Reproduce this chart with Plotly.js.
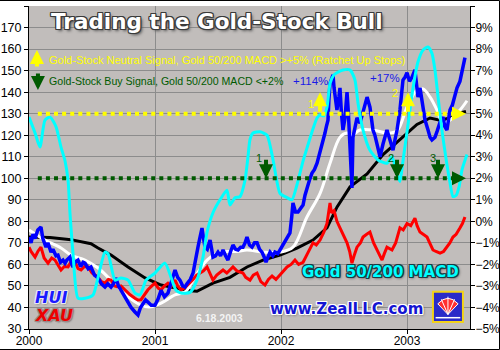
<!DOCTYPE html>
<html><head><meta charset="utf-8">
<script src="https://cdn.plot.ly/plotly-3.0.1.min.js"></script>
<style>html,body{margin:0;padding:0;background:#fff}#chart{width:500px;height:350px}</style>
</head><body><div id="chart"></div>
<script>
// x values are decimal years
const huiX = [0,.016,.032,.048,.07,.095,.11,.135,.15,.175,.19,.214,.23,.25,.27,.286,.30,.325,.34,.349,.365,.389,.41,.43,.444,.47,.492,.52,.548,.575,.603,.625,.651,.67,.69,.71,.73,.76,.786,.81,.841,.865,.885,.905,.925,.944,.97,1.0,1.025,1.048,1.075,1.103,1.13,1.159,1.18,1.198,1.22,1.238,1.254,1.28,1.302,1.325,1.341,1.355,1.373,1.385,1.397,1.415,1.437,1.45,1.46,1.48,1.5,1.52,1.54,1.56,1.579,1.60,1.619,1.64,1.659,1.68,1.698,1.715,1.73,1.75,1.77,1.79,1.81,1.83,1.849,1.87,1.881,1.90,1.913,1.935,1.952,1.975,1.992,2.01,2.032,2.05,2.071,2.085,2.095,2.115,2.135,2.155,2.175,2.19,2.206,2.225,2.246,2.265,2.286,2.30,2.325,2.34,2.349,2.36,2.373,2.38,2.389,2.40,2.413,2.421,2.429,2.444,2.46,2.468,2.48,2.492,2.508,2.524,2.535,2.548,2.556,2.563,2.571,2.587,2.603,2.627,2.645,2.659,2.683,2.706,2.73,2.745,2.762,2.786,2.81,2.841,2.865,2.889,2.905,2.921,2.944,2.955,2.968,2.985,3.0,3.02,3.04,3.063,3.075,3.087,3.103,3.12,3.143,3.167,3.183,3.198,3.222,3.24,3.262,3.286,3.30,3.317,3.341,3.36,3.38,3.397,3.42,3.437,3.45,3.46];
const huiY = [72.7,70,74,72,76,77.4,72,68,70,65.7,67,64,64.3,61,62,60.6,62,63.4,60,58.8,61,62,59,61,60.6,58,58.8,55,53.7,51,49.5,51,49.5,51,53.7,50,48,45,42,40,37.9,36.5,40,42,43.5,42.5,41,41,44,48,45,46.7,52,57.4,54,52.7,50,49.5,51,53,56,62,68,72,76.9,72,68,67,71.3,67,63.4,64,65.7,64,66.7,64,62,66,69,67,66.7,68,68,70,72.7,69,68,70,70,67,65.7,63,61,64,65.7,64,65.7,65,66.7,68,70,72,74.6,82,88.5,84.3,84.3,86,87.6,92,96,99,102.4,104,107,110,114.5,118,121,124,127,136,144,146,148,142,137.7,131.7,138,142,130,122.4,128,140,130,116,108,95.5,119,124,128,125.6,130,133,137.7,133,122.4,120,116,110,116,122.4,117.8,113,118,122.4,131.7,138,145.6,147,149,145,147,150.3,144,137.7,142,135,127,122.4,119,117.8,119,122,126,128.4,124,122.4,131.7,134,138,142,145,149,152,156];

const xauX = [0,.016,.048,.07,.095,.12,.151,.18,.206,.23,.254,.28,.31,.34,.365,.39,.413,.44,.468,.5,.548,.575,.603,.63,.651,.68,.706,.73,.762,.8,.841,.865,.889,.92,.944,.975,1.0,1.025,1.048,1.075,1.103,1.13,1.159,1.18,1.206,1.235,1.262,1.302,1.33,1.357,1.385,1.413,1.44,1.46,1.49,1.54,1.57,1.619,1.65,1.698,1.72,1.754,1.78,1.81,1.84,1.873,1.9,1.929,1.96,1.992,2.02,2.048,2.08,2.111,2.14,2.175,2.21,2.254,2.28,2.31,2.34,2.365,2.389,2.4,2.421,2.444,2.468,2.5,2.524,2.545,2.563,2.58,2.603,2.63,2.651,2.68,2.706,2.735,2.762,2.802,2.82,2.841,2.881,2.91,2.944,2.97,3.0,3.03,3.063,3.08,3.103,3.13,3.159,3.18,3.206,3.23,3.262,3.29,3.317,3.34,3.365,3.39,3.421,3.44,3.46];
const xauY = [68,66,63.4,66,68,63,60.6,63,62,60,57.4,59,58.8,62,61,58,57.4,59,58.8,56,54,52,51.3,53,52.7,50,49.5,50,48.2,46,44.3,43.5,43.6,46,48.2,50,51.3,49,48.2,50,51.3,50,52.7,50,48.2,49,50.5,53,55,56,57,58.8,55,52.7,55,57.4,56,58.8,57,56,54,52.7,55,56,52,50.4,53,54.6,53,55,57,58.8,60,62,60,61,65,70,69,71.3,75,79,88.5,84,85,80,77,73,70,66,60.6,64,68,70,72.7,74,75,70,66.7,62,65,68,66.7,70,77,76,79,78,81.5,78,75,74,72.7,70,66.7,66,65.2,66,68,70,72.7,74,77,79,82];

const ma50X = [0,.127,.254,.333,.444,.548,.651,.786,.889,.968,1.048,1.159,1.238,1.302,1.413,1.516,1.65,1.73,1.857,1.992,2.095,2.206,2.31,2.389,2.468,2.524,2.563,2.627,2.73,2.841,2.921,3.0,3.079,3.127,3.183,3.238,3.286,3.341,3.421,3.476];
const ma50Y = [76,71.3,67.6,64.3,62,58.3,52.7,45,41,40.3,42,45.8,47.2,52.7,62,65.7,66,66.7,65.7,65.7,68,82,93,107,119,121,120,122.4,122.4,121,122,133,141,141.5,137.7,131.7,125.6,127,131.7,136];

const ma200X = [0,.167,.333,.492,.548,.651,.786,.921,1.048,1.159,1.278,1.333,1.46,1.595,1.73,1.857,1.992,2.127,2.254,2.365,2.444,2.548,2.683,2.81,2.944,3.079,3.183,3.262,3.341,3.421,3.468];
const ma200Y = [72.7,72.5,71.5,69.6,67.6,64.3,58.8,53.7,50.4,49,47.8,47.5,51.3,54,58.8,62,64.3,67.6,71.3,77,86.6,96,102,111,118,125,128,127,128,130.3,131];

const macdX = [0,.048,.087,.127,.167,.214,.254,.286,.31,.325,.349,.389,.444,.508,.548,.603,.627,.683,.73,.786,.841,.881,.929,1.0,1.079,1.127,1.167,1.206,1.278,1.333,1.381,1.413,1.46,1.516,1.571,1.595,1.635,1.675,1.714,1.738,1.754,1.778,1.833,1.889,1.937,1.992,2.048,2.087,2.127,2.175,2.206,2.254,2.286,2.31,2.34,2.365,2.389,2.42,2.444,2.492,2.548,2.587,2.611,2.651,2.706,2.77,2.841,2.881,2.921,2.944,2.968,3.008,3.048,3.087,3.127,3.167,3.198,3.222,3.246,3.278,3.31,3.341,3.365,3.389,3.413,3.437,3.476];
const macdY = [4.84,4.1,3.45,4.7,4.84,4.4,3.45,2.8,1.9,0.4,-1.47,-3.57,-3.57,-3.42,-2.6,-1.43,-1.5,-2.73,-2.63,-2.73,-3.33,-3.42,-2.73,-2.4,-1.94,-2.6,-3.2,-3.33,-3.3,-2.73,-1.66,-0.5,0.4,1.0,1.45,0.76,1.1,1.15,1.9,3.0,3.8,4.1,4.16,4.0,2.85,1.3,1.1,1.0,1.7,2.8,3.4,4.3,4.8,4.95,4.9,5.3,6.4,6.8,6.9,7.03,7.03,6.56,5.5,4.24,3.3,2.85,2.7,3.0,2.2,1.85,2.8,4.5,6.2,7.4,7.95,8.1,7.8,7.03,5.8,4.2,2.9,1.8,1.15,1.2,1.6,2.4,3.1];

const yearTicks = [2000, 2001, 2002, 2003];
const yearLabels = ['2000', '2001', '2002', '2003'];
const neutralLevel = 5;   // % MACD
const buyLevel = 2;       // % MACD

const yr = a => a.map(v => 2000 + v);
const F = 'Liberation Sans, Arial, sans-serif';

const traces = [
  {x: yr(ma200X), y: ma200Y, mode: 'lines', line: {color: '#000000', width: 3}, hoverinfo: 'skip'},
  {x: yr(ma50X), y: ma50Y, mode: 'lines', line: {color: '#ffffff', width: 3, shape: 'spline'}, hoverinfo: 'skip'},
  {x: yr(xauX), y: xauY, mode: 'lines', line: {color: '#ff0000', width: 3}, hoverinfo: 'skip'},
  {x: yr(huiX), y: huiY, mode: 'lines', line: {color: '#0000ff', width: 3.5}, hoverinfo: 'skip'},
  {x: yr(macdX), y: macdY, yaxis: 'y2', mode: 'lines', line: {color: '#00ffff', width: 3, shape: 'spline', smoothing: 0.6}, hoverinfo: 'skip'}
];

const outline = c => `-1px -1px 0 ${c}, 1px -1px 0 ${c}, -1px 1px 0 ${c}, 1px 1px 0 ${c}, 0 -1px 0 ${c}, 0 1px 0 ${c}, -1px 0 0 ${c}, 1px 0 0 ${c}`;

function arrow(x, y, ax, ay, color) {
  return {x: x, y: y, xref: 'x', yref: 'y2', ax: ax, ay: ay, axref: 'pixel', ayref: 'pixel', text: '', showarrow: true,
          arrowhead: 2, arrowsize: 0.7, arrowwidth: 4, arrowcolor: color};
}
function label(x, y, txt, color, size, xanchor) {
  return {x: x, y: y, xref: 'x', yref: 'y2', text: txt, showarrow: false, xanchor: xanchor || 'center', yanchor: 'middle',
          font: {family: F, size: size || 11, color: color}};
}
const YEL = '#ffff00', GRN = '#005a00';

const annotations = [
  {xref: 'paper', yref: 'paper', x: 0.426, y: 0.952, text: 'Trading the Gold-Stock Bull', showarrow: false,
   xanchor: 'center', yanchor: 'middle',
   font: {family: 'DejaVu Sans, sans-serif', size: 21.5, color: '#ffffff', weight: 700,
          shadow: outline('#3a3a3a') + ', 2px 2px 3px #555'}},
  label(2000.145, 7.49, 'Gold-Stock Neutral Signal, Gold 50/200 MACD >+5% (Ratchet Up Stops)', YEL, 11, 'left'),
  label(2000.145, 6.52, 'Gold-Stock Buy Signal, Gold 50/200 MACD <+2%', GRN, 10.6, 'left'),
  arrow(2000.063, 7.96, 0, 18, YEL),
  arrow(2000.071, 6.1, 0, -18, GRN),
  label(2002.235, 6.52, '+114%', '#1a1ae6', 11.5),
  label(2002.825, 6.66, '+17%', '#1a1ae6', 11.5),
  arrow(2002.31, 6.0, 0, 21, YEL),
  arrow(2003.008, 6.0, 0, 21, YEL),
  label(2002.235, 5.45, '1', YEL, 11),
  label(2002.905, 5.95, '2', YEL, 11),
  arrow(2003.468, neutralLevel, -14, 0, YEL),
  arrow(2001.881, 2.0, 0, -20, GRN),
  arrow(2002.921, 2.0, 0, -20, GRN),
  arrow(2003.246, 2.0, 0, -20, GRN),
  label(2001.825, 2.94, '1', GRN, 11),
  label(2002.873, 2.94, '2', GRN, 11),
  label(2003.206, 2.94, '3', GRN, 11),
  arrow(2003.468, buyLevel, -14, 0, GRN),
  {xref: 'paper', yref: 'paper', x: 0.798, y: 0.176, text: 'Gold 50/200 MACD', showarrow: false, xanchor: 'center', yanchor: 'middle',
   font: {family: 'DejaVu Sans, sans-serif', size: 15, color: '#00ffff', weight: 700, shadow: outline('#1c3a44') + ', 1px 1px 3px #333'}},
  {xref: 'paper', yref: 'paper', x: 0.719, y: 0.062, text: 'www.ZealLLC.com', showarrow: false, xanchor: 'center', yanchor: 'middle',
   font: {family: 'DejaVu Sans, sans-serif', size: 15, color: '#1414d2', weight: 700, shadow: outline('#ffffff') + ', 1px 1px 3px #444'}},
  {xref: 'paper', yref: 'paper', x: 0.009, y: 0.099, text: 'HUI', showarrow: false, xanchor: 'left', yanchor: 'middle',
   font: {family: 'DejaVu Sans, sans-serif', size: 16, color: '#1a1aff', weight: 700, style: 'italic', shadow: outline('#e8e8f0') + ', 1px 1px 2px #555'}},
  {xref: 'paper', yref: 'paper', x: 0.009, y: 0.043, text: 'XAU', showarrow: false, xanchor: 'left', yanchor: 'middle',
   font: {family: 'DejaVu Sans, sans-serif', size: 16, color: '#ee0000', weight: 700, style: 'italic', shadow: outline('#9a8a8a') + ', 1px 1px 2px #555'}},
  {xref: 'paper', yref: 'paper', x: 0.431, y: 0.034, text: '6.18.2003', showarrow: false, xanchor: 'center', yanchor: 'middle',
   font: {family: F, size: 10.5, color: '#f4f4f4', weight: 700}}
];

const shapes = [
  {type: 'line', xref: 'x', yref: 'y2', x0: 2000.07, x1: 2003.36, y0: neutralLevel, y1: neutralLevel,
   line: {color: YEL, width: 4, dash: '4px,4.1px'}},
  {type: 'line', xref: 'x', yref: 'y2', x0: 2000.07, x1: 2003.36, y0: buyLevel, y1: buyLevel,
   line: {color: GRN, width: 4, dash: '4px,4.1px'}},
  // logo
  {type: 'rect', xref: 'paper', yref: 'paper', x0: 0.916, x1: 0.984, y0: 0.022, y1: 0.115,
   fillcolor: '#2a2ac8', line: {color: '#f2d21a', width: 2}},
  {type: 'path', xref: 'paper', yref: 'paper',
   path: 'M 0.950 0.045 L 0.927 0.078 Q 0.950 0.112 0.973 0.078 Z', fillcolor: '#ff3030', line: {color: '#ffffff', width: 1}},
  {type: 'line', xref: 'paper', yref: 'paper', x0: 0.950, y0: 0.045, x1: 0.950, y1: 0.100, line: {color: '#ffffff', width: 1}},
  {type: 'line', xref: 'paper', yref: 'paper', x0: 0.950, y0: 0.045, x1: 0.935, y1: 0.092, line: {color: '#ffffff', width: 1}},
  {type: 'line', xref: 'paper', yref: 'paper', x0: 0.950, y0: 0.045, x1: 0.965, y1: 0.092, line: {color: '#ffffff', width: 1}},
  {type: 'line', xref: 'paper', yref: 'paper', x0: 0.922, y0: 0.035, x1: 0.978, y1: 0.035, line: {color: '#ffffff', width: 1.5}},
  // outer frame
  {type: 'rect', xref: 'paper', yref: 'paper', x0: -29.5/441, x1: 470.5/441, y0: -20.5/323, y1: 328.5/323,
   line: {color: '#000000', width: 1}, fillcolor: 'rgba(0,0,0,0)'}
];

const layout = {
  width: 500, height: 350,
  margin: {l: 29, r: 30, t: 6, b: 21, pad: 0},
  paper_bgcolor: '#ffffff', plot_bgcolor: '#c1bdbb',
  showlegend: false,
  font: {family: F, size: 12.5, color: '#000'},
  xaxis: {range: [2000, 2003.5], tickvals: yearTicks, ticktext: yearLabels, showgrid: true, gridcolor: '#8c8c8c', gridwidth: 1,
          showline: true, linecolor: '#000', linewidth: 1, ticks: 'outside', ticklen: 4, tickcolor: '#000', zeroline: false,
          ticklabelstandoff: -3, tickfont: {family: F, size: 12}},
  yaxis: {range: [30, 180], dtick: 10, showgrid: true, gridcolor: '#8c8c8c', gridwidth: 1, showline: true, linecolor: '#000',
          ticks: 'outside', ticklen: 4, tickcolor: '#000', zeroline: false, tickfont: {family: F, size: 12.5}},
  yaxis2: {range: [-5, 10], dtick: 1, overlaying: 'y', side: 'right', ticksuffix: '%', showgrid: false, showline: true,
           linecolor: '#000', ticks: 'outside', ticklen: 4, tickcolor: '#000', zeroline: false,
           ticklabelstandoff: -2, tickfont: {family: F, size: 12}},
  annotations: annotations,
  shapes: shapes
};

Plotly.newPlot('chart', traces, layout, {staticPlot: true, displayModeBar: false});
</script>
</body></html>
